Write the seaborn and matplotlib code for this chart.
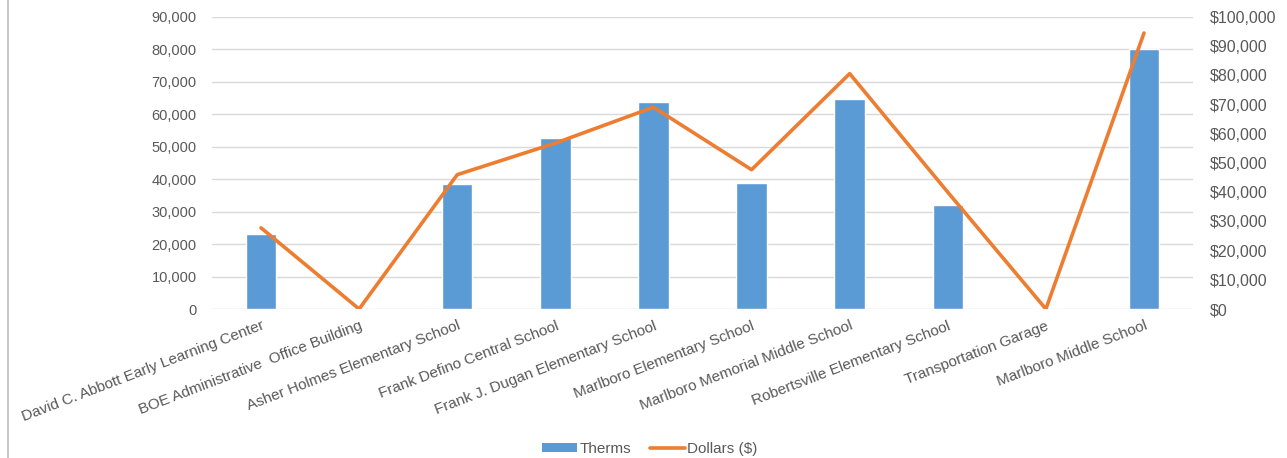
import numpy as np
import pandas as pd
import seaborn as sns
import matplotlib.pyplot as plt
from matplotlib.lines import Line2D
from matplotlib.patches import Patch
from matplotlib.ticker import FuncFormatter, MultipleLocator

# Buildings on the x axis
buildings = [
    "David C. Abbott Early Learning Center",
    "BOE Administrative  Office Building",
    "Asher Holmes Elementary School",
    "Frank Defino Central School",
    "Frank J. Dugan Elementary School",
    "Marlboro Elementary School",
    "Marlboro Memorial Middle School",
    "Robertsville Elementary School",
    "Transportation Garage",
    "Marlboro Middle School",
]
# Gas use (left axis) and cost (right axis)
therms = [23200, 0, 38400, 52800, 63700, 38900, 64800, 32100, 0, 80000]
dollars = [27800, 0, 46000, 56800, 69100, 47700, 80600, 40000, 0, 94500]

BLUE = "#5B9BD5"
ORANGE = "#ED7D31"
TEXT = "#595959"
GRID = "#D9D9D9"

sns.set_theme(style="white")
plt.rcParams["font.family"] = ["Liberation Sans", "DejaVu Sans"]

df = pd.DataFrame({"building": buildings, "therms": therms, "dollars": dollars})
df["pos"] = np.arange(len(df))

fig = plt.figure(figsize=(12.87, 4.58), dpi=100)
ax = fig.add_axes([0.1647, 0.3253, 0.7623, 0.6376])

sns.barplot(data=df, x="building", y="therms", color=BLUE, width=0.31,
            saturation=1, ax=ax, zorder=2)
ax.set_xlim(-0.5, len(df) - 0.5)
ax.set_ylim(0, 90000)
ax.yaxis.set_major_locator(MultipleLocator(10000))
ax.yaxis.set_major_formatter(FuncFormatter(lambda v, p: f"{v:,.0f}"))
ax.grid(axis="y", color=GRID, linewidth=1, zorder=0)
ax.set_axisbelow(True)
ax.set_xlabel("")
ax.set_ylabel("")
for s in ax.spines.values():
    s.set_visible(False)
ax.tick_params(axis="y", length=0, pad=11, labelsize=10.5, labelcolor=TEXT)
ax.tick_params(axis="x", length=0, pad=7, labelsize=11, labelcolor=TEXT)
plt.setp(ax.get_xticklabels(), rotation=21, ha="right", rotation_mode="anchor")

ax2 = ax.twinx()
sns.lineplot(data=df, x="pos", y="dollars", color=ORANGE, linewidth=2.6,
             ax=ax2, zorder=3)
ax2.set_ylim(0, 100000)
ax2.yaxis.set_major_locator(MultipleLocator(10000))
ax2.yaxis.set_major_formatter(FuncFormatter(lambda v, p: f"${v:,.0f}"))
ax2.set_xlim(-0.5, len(df) - 0.5)
ax2.set_ylabel("")
ax2.grid(False)
for s in ax2.spines.values():
    s.set_visible(False)
ax2.tick_params(axis="y", length=0, pad=12, labelsize=11.5, labelcolor=TEXT)

handles = [Patch(facecolor=BLUE, edgecolor="none"),
           Line2D([], [], color=ORANGE, linewidth=2.6)]
fig.legend(handles, ["Therms", "Dollars ($)"], loc="center",
           bbox_to_anchor=(0.505, 0.02), ncol=2, frameon=False,
           fontsize=11, labelcolor=TEXT, handlelength=2.3,
           handleheight=0.45, handletextpad=0.15, columnspacing=1.2)

# chart frame edge seen on the left
fig.add_artist(Line2D([0.006, 0.006], [0, 1], color="#BFBFBF", linewidth=1.2))

fig.savefig("out.png", dpi=100)
